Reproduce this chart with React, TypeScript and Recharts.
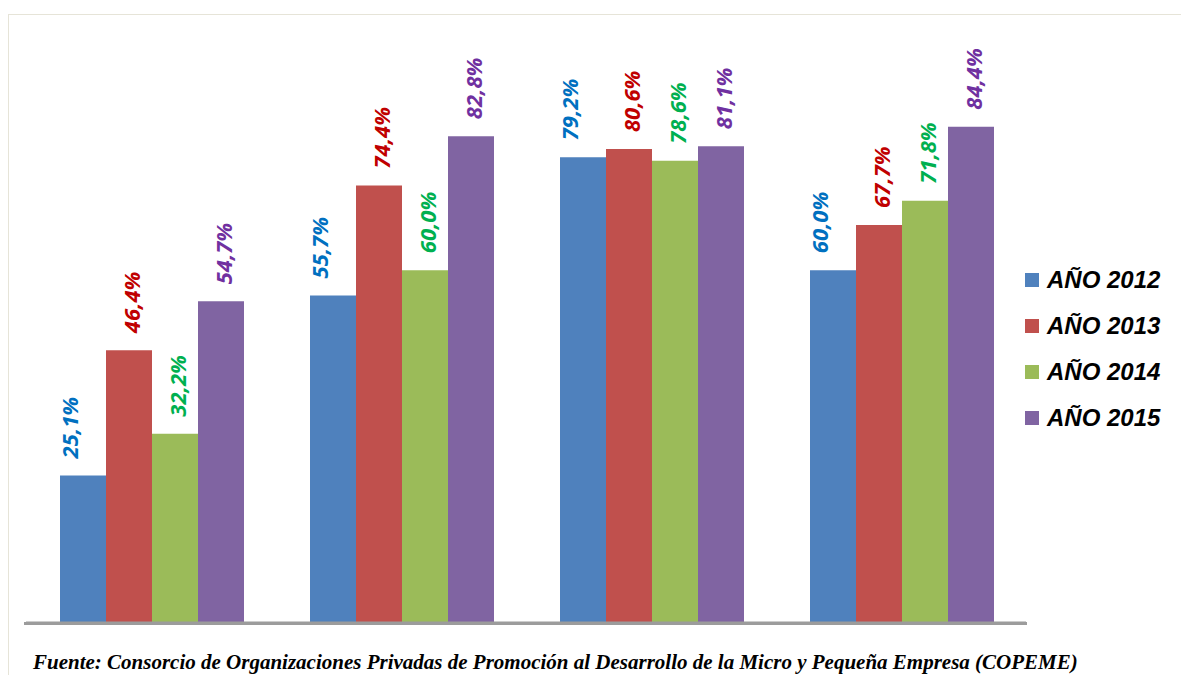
import React from 'react'
import { BarChart, Bar, XAxis, YAxis, LabelList } from 'recharts'

// categories (axis labels are cut off in the source picture)
const categories = ['A', 'B', 'C', 'D']
const y2012 = [25.1, 55.7, 79.2, 60.0]
const y2013 = [46.4, 74.4, 80.6, 67.7]
const y2014 = [32.2, 60.0, 78.6, 71.8]
const y2015 = [54.7, 82.8, 81.1, 84.4]

const SERIES = [
  { key: 'y2012', name: 'AÑO 2012', fill: '#4F81BD', text: '#0070C0', dx: -14 },
  { key: 'y2013', name: 'AÑO 2013', fill: '#C0504D', text: '#C00000', dx: 2 },
  { key: 'y2014', name: 'AÑO 2014', fill: '#9BBB59', text: '#00B050', dx: 2 },
  { key: 'y2015', name: 'AÑO 2015', fill: '#8064A2', text: '#7030A0', dx: 2 },
]

const data = categories.map((c, i) => ({
  cat: c,
  y2012: y2012[i],
  y2013: y2013[i],
  y2014: y2014[i],
  y2015: y2015[i],
}))

const fmt = (v: number) => v.toFixed(1).replace('.', ',') + '%'

const makeLabel = (color: string, dx: number) => (props: any) => {
  const { x, y, width, value } = props
  const cx = Number(x) + Number(width) / 2 + dx
  const top = Number(y) - 17
  return (
    <text
      x={cx}
      y={top}
      transform={`rotate(-90 ${cx} ${top})`}
      textAnchor="start"
      dominantBaseline="central"
      fill={color}
      fontFamily="'Noto Sans', sans-serif"
      fontWeight="bold"
      fontStyle="italic"
      fontSize={22}
    >
      {fmt(value)}
    </text>
  )
}

export default function App() {
  return (
    <div style={{ position: 'absolute', left: 0, top: 0, width: 1181, height: 675, background: '#fff', overflow: 'hidden' }}>
      {/* frame */}
      <div style={{ position: 'absolute', left: 8, top: 14, right: -2, bottom: -2, border: '1px solid #E6E4D8' }} />
      <BarChart
        width={1181}
        height={675}
        data={data}
        margin={{ top: 35, left: 26, right: 155, bottom: 50 }}
        barGap={0}
        barCategoryGap={34}
        style={{ position: 'absolute', left: 0, top: 0 }}
      >
        <XAxis
          dataKey="cat"
          tick={false}
          tickLine={false}
          height={2}
          axisLine={{ stroke: '#9C9C9C', strokeWidth: 3 }}
        />
        <YAxis hide domain={[0, 100]} />
        {SERIES.map(s => (
          <Bar key={s.key} dataKey={s.key} name={s.name} fill={s.fill} isAnimationActive={false}>
            <LabelList dataKey={s.key} content={makeLabel(s.text, s.dx)} />
          </Bar>
        ))}
      </BarChart>
      {/* category axis line, extending slightly left of the plot as in the source */}
      <div style={{ position: 'absolute', left: 24, top: 622, width: 1003, height: 3, background: '#9C9C9C', zIndex: 2 }} />
      {/* legend */}
      <div style={{ position: 'absolute', left: 1025, top: 257 }}>
        {SERIES.map(s => (
          <div key={s.key} style={{ display: 'flex', alignItems: 'center', height: 46 }}>
            <span style={{ width: 14, height: 14, background: s.fill, display: 'inline-block', marginRight: 8 }} />
            <span
              style={{
                fontFamily: "'Liberation Sans', Arial, sans-serif",
                fontWeight: 'bold',
                fontStyle: 'italic',
                fontSize: 24,
                color: '#000',
              }}
            >
              {s.name}
            </span>
          </div>
        ))}
      </div>
      <div
        style={{
          position: 'absolute',
          left: 33,
          top: 650,
          fontFamily: "'Liberation Serif', 'Times New Roman', serif",
          fontWeight: 'bold',
          fontStyle: 'italic',
          fontSize: 21,
          lineHeight: '24px',
          color: '#000',
          whiteSpace: 'nowrap',
        }}
      >
        Fuente: Consorcio de Organizaciones Privadas de Promoción al Desarrollo de la Micro y Pequeña Empresa (COPEME)
      </div>
    </div>
  )
}
